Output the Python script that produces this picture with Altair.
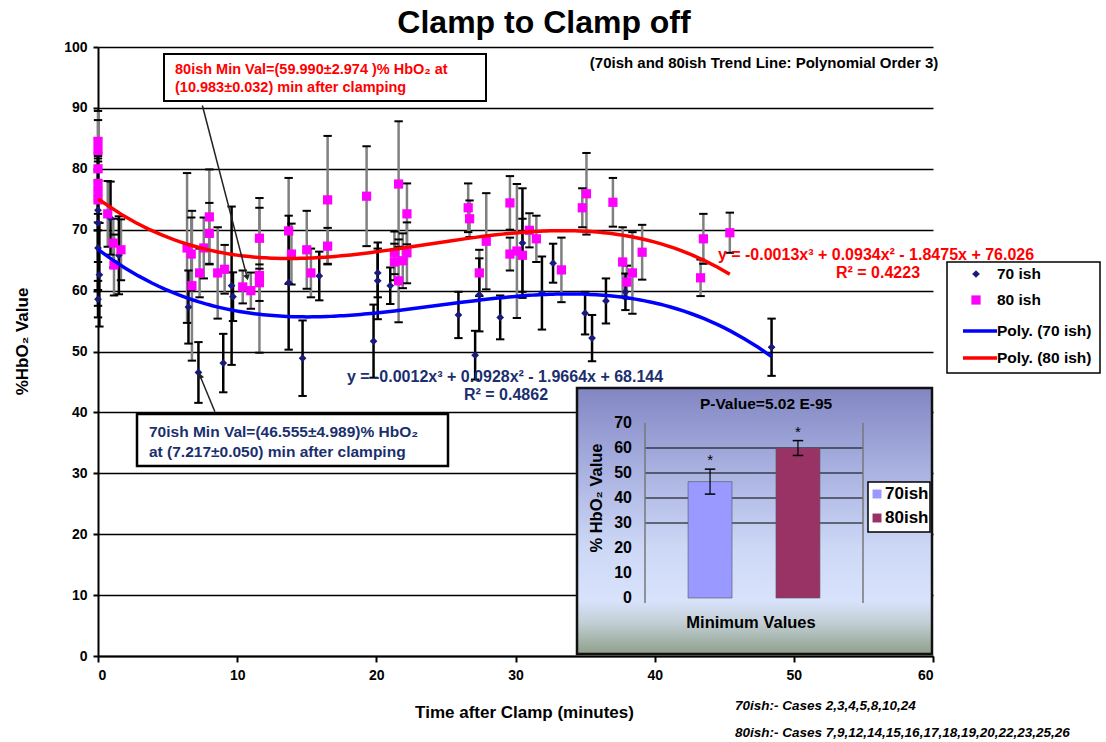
import altair as alt
import pandas as pd

FONT = "Liberation Sans"
NAVY = "#1a1a7a"
NAVY_TEXT = "#1b2f6e"

# ---- 70ish cases: time after clamp (min), mean %HbO2, +/- error
t70 = [0.0, 0.0, 0.0, 0.1, 0.0, 0.9, 1.5, 6.5, 7.217, 9.0, 9.6, 9.7, 13.7, 14.7, 15.9,
       19.8, 20.1, 20.1, 21.0, 25.9, 27.1, 27.4, 28.9, 30.5, 31.9, 32.7, 35.0, 35.5, 36.5,
       37.9, 48.4]
v70 = [73.2, 71.1, 67.0, 62.6, 58.6, 71.9, 65.8, 57.3, 46.555, 48.1, 60.8, 59.0, 61.3,
       48.9, 62.4, 51.7, 62.9, 61.6, 60.8, 56.0, 49.4, 59.3, 55.6, 67.8, 59.6, 64.5, 56.3,
       52.2, 58.3, 59.8, 50.7]
e70 = [8.5, 11.0, 9.5, 8.5, 3.0, 6.0, 6.4, 6.0, 4.989, 4.8, 13.0, 4.0, 11.0, 6.2, 4.0,
       6.0, 4.0, 6.3, 3.0, 3.8, 4.0, 6.0, 3.6, 9.0, 6.0, 3.2, 3.5, 3.8, 3.7, 3.0, 4.7]

# ---- 80ish cases
t80 = [0.0, 0.0, 0.0, 0.0, 0.0, 0.0, 0.7, 1.1, 1.15, 1.65, 6.4, 6.7, 6.75, 7.3, 8.0, 8.0,
       7.6, 8.6, 9.1, 10.4, 10.983, 11.6, 11.6, 11.6, 13.7, 13.9, 15.0, 15.3, 16.5, 16.5,
       19.3, 21.6, 21.3, 21.3, 21.6, 21.9, 22.2, 22.2, 26.6, 26.7, 27.4, 27.9, 29.6, 29.6,
       30.1, 30.5, 31.0, 31.5, 33.3, 34.8, 35.1, 37.0, 37.7, 38.0, 38.4, 39.1, 43.3, 43.5,
       45.4]
v80 = [84.5, 83.0, 80.0, 77.6, 76.2, 74.9, 72.6, 67.8, 64.2, 66.7, 67.0, 66.0, 60.8, 62.9,
       72.1, 69.4, 67.0, 62.9, 63.5, 60.6, 59.99, 61.3, 62.5, 68.6, 69.8, 66.0, 66.7, 62.9,
       74.9, 67.3, 75.5, 77.5, 64.7, 66.2, 61.6, 64.9, 66.2, 72.6, 73.6, 71.8, 62.9, 68.1,
       74.4, 66.0, 66.5, 65.8, 69.9, 68.5, 63.4, 73.6, 75.9, 74.5, 64.7, 61.4, 62.9, 66.3,
       62.1, 68.5, 69.5]
e80 = [5.0, 5.0, 5.0, 5.0, 5.0, 5.0, 5.4, 4.0, 5.0, 5.0, 12.3, 6.0, 12.3, 4.0, 7.8, 5.0,
       5.0, 7.5, 4.0, 2.7, 2.974, 3.0, 12.7, 5.0, 8.7, 5.0, 6.4, 4.0, 10.5, 3.0, 8.2, 10.3,
       3.0, 3.5, 6.8, 4.5, 5.0, 5.0, 4.0, 3.0, 3.8, 7.9, 4.4, 2.7, 11.0, 6.0, 2.8, 3.8, 5.3,
       3.2, 6.7, 4.0, 5.7, 2.7, 6.7, 4.5, 3.0, 4.1, 3.3]

# ---- inset: minimum values of each group
min_groups = ["70ish", "80ish"]
min_vals = [46.555, 59.990]
min_errs = [4.989, 2.974]
min_colors = ["#9999ff", "#993366"]

x_ticks = [0, 10, 20, 30, 40, 50, 60]
y_ticks = [0, 10, 20, 30, 40, 50, 60, 70, 80, 90, 100]
inset_ticks = [0, 10, 20, 30, 40, 50, 60, 70]
inset_grid = [30, 40, 50, 60]

title_text = "Clamp to Clamp off"
note_text = "(70ish and 80ish Trend Line: Polynomial Order 3)"
min80_lines = ["80ish Min Val=(59.990\u00b12.974 )% HbO\u2082 at",
               "(10.983\u00b10.032) min after clamping"]
min70_lines = ["70ish Min Val=(46.555\u00b14.989)% HbO\u2082",
               "at (7.217\u00b10.050) min after clamping"]
eq70 = ["y = -0.0012x\u00b3 + 0.0928x\u00b2 - 1.9664x + 68.144", "R\u00b2 = 0.4862"]
eq80 = ["y = -0.0013x\u00b3 + 0.0934x\u00b2 - 1.8475x + 76.026", "R\u00b2 = 0.4223"]
legend_labels = ["70 ish", "80 ish", "Poly. (70 ish)", "Poly. (80 ish)"]
cases70 = "70ish:- Cases 2,3,4,5,8,10,24"
cases80 = "80ish:- Cases 7,9,12,14,15,16,17,18,19,20,22,23,25,26"


def frame(t, v, e):
    return pd.DataFrame({"t": t, "v": v,
                         "lo": [a - b for a, b in zip(v, e)],
                         "hi": [a + b for a, b in zip(v, e)]})


df70 = frame(t70, v70, e70)
df80 = frame(t80, v80, e80)
one = pd.DataFrame({"k": [0]})

xs = alt.Scale(domain=[0, 60], nice=False, zero=False)
ys = alt.Scale(domain=[0, 100], nice=False, zero=False)
x_axis = alt.Axis(title="Time after Clamp (minutes)", values=x_ticks, grid=False,
                  domainColor="black", domainWidth=2, tickColor="black", tickWidth=2,
                  tickSize=6, labelFont=FONT, labelFontSize=14, labelFontWeight="bold",
                  labelColor="black", labelPadding=6, titleFont=FONT, titleFontSize=17,
                  titleFontWeight="bold", titleColor="black", titleX=426, titleY=56,
                  titleBaseline="middle")
y_axis = alt.Axis(title="%HbO\u2082 Value", values=y_ticks, grid=True, gridColor="black",
                  gridWidth=1.5, gridOpacity=1, domainColor="black", domainWidth=2,
                  tickColor="black", tickWidth=2, tickSize=5, labelFont=FONT,
                  labelFontSize=14, labelFontWeight="bold", labelColor="black",
                  labelPadding=6, titleFont=FONT, titleFontSize=17, titleFontWeight="bold",
                  titleColor="black", titleX=-76, titleY=294, titleBaseline="middle",
                  titleAngle=270)


def X(f, axis=False):
    return alt.X(f, type="quantitative", scale=xs, axis=x_axis if axis else None)


def Y(f, axis=False):
    return alt.Y(f, type="quantitative", scale=ys, axis=y_axis if axis else None)


def error_bars(df, color, width, axis=False):
    bars = alt.Chart(df).mark_rule(color=color, strokeWidth=width).encode(
        x=X("t", axis), y=Y("lo", axis), y2="hi")
    lo = alt.Chart(df).mark_point(shape="stroke", size=70, strokeWidth=2, color="black",
                                  opacity=1).encode(x=X("t"), y=Y("lo"))
    hi = alt.Chart(df).mark_point(shape="stroke", size=70, strokeWidth=2, color="black",
                                  opacity=1).encode(x=X("t"), y=Y("hi"))
    return [bars, lo, hi]


def label(text, x, y, size=14, color="black", align="left", weight="bold", angle=0,
          style="normal"):
    return alt.Chart(one).mark_text(text=text, font=FONT, fontSize=size, fontWeight=weight,
                                    fontStyle=style, color=color, align=align,
                                    baseline="middle", angle=angle).encode(
        x=alt.value(x), y=alt.value(y))


def box(x, x2, y, y2, stroke_width=2):
    return alt.Chart(one).mark_rect(fill="white", stroke="black",
                                    strokeWidth=stroke_width).encode(
        x=alt.value(x), x2=alt.value(x2), y=alt.value(y), y2=alt.value(y2))


pts70 = alt.Chart(df70).mark_point(shape="diamond", filled=True, color=NAVY, size=60,
                                   opacity=1).encode(x=X("t"), y=Y("v"))
pts80 = alt.Chart(df80).mark_point(shape="square", filled=True, color="#ff00ff", size=85,
                                   opacity=1).encode(x=X("t"), y=Y("v"))

trend70 = alt.Chart(df70).transform_regression("t", "v", method="poly", order=3).mark_line(
    color="#0000ff", strokeWidth=3.5).encode(x=X("t"), y=Y("v"))
trend80 = alt.Chart(df80).transform_regression("t", "v", method="poly", order=3).mark_line(
    color="#ff0000", strokeWidth=3.5).encode(x=X("t"), y=Y("v"))

# callout arrows towards the two minima
arrow80 = pd.DataFrame({"t": [7.5], "v": [90.4], "t2": [10.7], "v2": [62.3]})
arrow70 = pd.DataFrame({"t": [8.4], "v": [40.1], "t2": [7.35], "v2": [45.9]})
arrow80_line = alt.Chart(arrow80).mark_rule(color="#222", strokeWidth=1.5).encode(
    x=X("t"), y=Y("v"), x2="t2", y2="v2")
arrow80_head = alt.Chart(arrow80).mark_point(shape="triangle", filled=True, color="#222",
                                            size=45, angle=166, opacity=1).encode(
    x=X("t2"), y=Y("v2"))
arrow70_line = alt.Chart(arrow70).mark_rule(color="#222", strokeWidth=1.5).encode(
    x=X("t"), y=Y("v"), x2="t2", y2="v2")
arrow70_head = alt.Chart(arrow70).mark_point(shape="triangle", filled=True, color="#222",
                                            size=45, angle=340, opacity=1).encode(
    x=X("t2"), y=Y("v2"))

main_layers = (error_bars(df80, "#808080", 2.5, axis=True) + error_bars(df70, "black", 2.5)
               + [pts70, pts80, trend70, trend80,
                  arrow80_line, arrow80_head, arrow70_line, arrow70_head])

annotations = [
    label(title_text, 446, -24, size=32, align="center"),
    label(note_text, 666, 16, size=15, align="center"),
    box(66, 388, 7, 54),
    label(min80_lines[0], 77, 23, size=14.5, color="#ff0000"),
    label(min80_lines[1], 77, 41, size=14.5, color="#ff0000"),
    box(39, 350, 367, 419, 2.5),
    label(min70_lines[0], 51, 385, size=15.5, color=NAVY_TEXT),
    label(min70_lines[1], 51, 405, size=15.5, color=NAVY_TEXT),
    label(eq70[0], 407, 330, size=16, color=NAVY_TEXT, align="center"),
    label(eq70[1], 408, 348, size=16, color=NAVY_TEXT, align="center"),
    label(eq80[0], 778, 208, size=16, color="#ff0000", align="center"),
    label(eq80[1], 780, 226, size=16, color="#ff0000", align="center"),
    label(cases70, 637, 659, size=13.5, style="italic"),
    label(cases80, 637, 686, size=13.5, style="italic"),
    # series legend
    box(849, 1002, 215, 326, 1.5),
    alt.Chart(one).mark_point(shape="diamond", filled=True, color=NAVY, size=60,
                              opacity=1).encode(x=alt.value(878), y=alt.value(227)),
    alt.Chart(one).mark_point(shape="square", filled=True, color="#ff00ff", size=85,
                              opacity=1).encode(x=alt.value(878), y=alt.value(253)),
    alt.Chart(one).mark_rule(color="#0000ff", strokeWidth=3.5).encode(
        x=alt.value(865), x2=alt.value(899), y=alt.value(284)),
    alt.Chart(one).mark_rule(color="#ff0000", strokeWidth=3.5).encode(
        x=alt.value(865), x2=alt.value(899), y=alt.value(311)),
    label(legend_labels[0], 899, 227, size=15.5),
    label(legend_labels[1], 899, 253, size=15.5),
    label(legend_labels[2], 899, 284, size=15.5),
    label(legend_labels[3], 899, 311, size=15.5),
]

# ---- inset bar chart of the minimum values (own scales, placed by range)
bar_df = pd.DataFrame({"g": min_groups, "m": min_vals,
                       "lo": [a - b for a, b in zip(min_vals, min_errs)],
                       "hi": [a + b for a, b in zip(min_vals, min_errs)],
                       "base": [0, 0]})
bxs = alt.Scale(type="band", domain=min_groups, range=[547, 765], paddingInner=0.5,
                paddingOuter=0.49)
bys = alt.Scale(domain=[0, 70], range=[551, 376], nice=False, zero=False)
BX = alt.X("g:N", scale=bxs, axis=None)


def BY(f):
    return alt.Y(f, type="quantitative", scale=bys, axis=None)


gradient = alt.Gradient(
    gradient="linear", x1=0, y1=0, x2=0, y2=1,
    stops=[alt.GradientStop(color="#8286c2", offset=0),
           alt.GradientStop(color="#a8b0e0", offset=0.3),
           alt.GradientStop(color="#cdd8f6", offset=0.6),
           alt.GradientStop(color="#d8e2fb", offset=0.8),
           alt.GradientStop(color="#c3cfd6", offset=0.88),
           alt.GradientStop(color="#8e9f8a", offset=1)])

inset_bg = alt.Chart(one).mark_rect(fill=gradient, stroke="#111", strokeWidth=2.5).encode(
    x=alt.value(479), x2=alt.value(834), y=alt.value(341), y2=alt.value(607))
grid_df = pd.DataFrame({"val": inset_grid})
tick_df = pd.DataFrame({"val": inset_ticks})
edge_df = pd.DataFrame({"top": [70], "bottom": [-2]})
inset_grid_lines = alt.Chart(grid_df).mark_rule(color="black", strokeWidth=1.2).encode(
    x=alt.value(547), x2=alt.value(765), y=BY("val"))
inset_edges = [
    alt.Chart(edge_df).mark_rule(color="#777", strokeWidth=1.5).encode(
        x=alt.value(xv), y=BY("top"), y2="bottom")
    for xv in (547, 765)
]
inset_labels = alt.Chart(tick_df).mark_text(font=FONT, fontSize=16, fontWeight="bold",
                                            color="black", align="right",
                                            baseline="middle").encode(
    x=alt.value(534), y=BY("val"), text="val:Q")
inset_bars = alt.Chart(bar_df).mark_bar(stroke="#555", strokeWidth=0.6).encode(
    x=BX, y=BY("m"), y2="base",
    color=alt.Color("g:N", scale=alt.Scale(domain=min_groups, range=min_colors),
                    legend=None))
inset_err = alt.Chart(bar_df).mark_rule(color="black", strokeWidth=1.2).encode(
    x=BX, y=BY("lo"), y2="hi")
inset_caps = [
    alt.Chart(bar_df).mark_point(shape="stroke", size=110, strokeWidth=1.5, color="black",
                                 opacity=1).encode(x=BX, y=BY(f))
    for f in ("lo", "hi")
]
inset_stars = alt.Chart(bar_df).mark_text(text="*", font=FONT, fontSize=15, color="black",
                                          dy=-9, baseline="middle").encode(
    x=BX, y=BY("hi"))

inset_layers = [
    inset_bg, inset_grid_lines, *inset_edges, inset_labels, inset_bars, inset_err,
    *inset_caps, inset_stars,
    label("P-Value=5.02 E-95", 668, 357, size=15.5, align="center"),
    label("% HbO\u2082 Value", 499, 451, size=16.5, align="center", angle=270),
    label("Minimum Values", 653, 576, size=16.5, align="center"),
    box(770, 832, 435, 485, 1.5),
    alt.Chart(one).mark_point(shape="square", filled=True, color=min_colors[0], size=80,
                              opacity=1).encode(x=alt.value(779), y=alt.value(447)),
    alt.Chart(one).mark_point(shape="square", filled=True, color=min_colors[1], size=80,
                              opacity=1).encode(x=alt.value(779), y=alt.value(471)),
    label(min_groups[0], 787, 447, size=17),
    label(min_groups[1], 787, 471, size=17),
]

chart = alt.layer(*(main_layers + annotations + inset_layers)).resolve_scale(
    x="independent", y="independent", color="independent"
).properties(
    width=835, height=609,
    padding={"left": 98, "top": 47, "right": 173, "bottom": 86},
    autosize=alt.AutoSizeParams(type="none"),
    background="white",
).configure_view(stroke=None)

chart.save("out.html", embed_options={"renderer": "svg", "actions": False})
